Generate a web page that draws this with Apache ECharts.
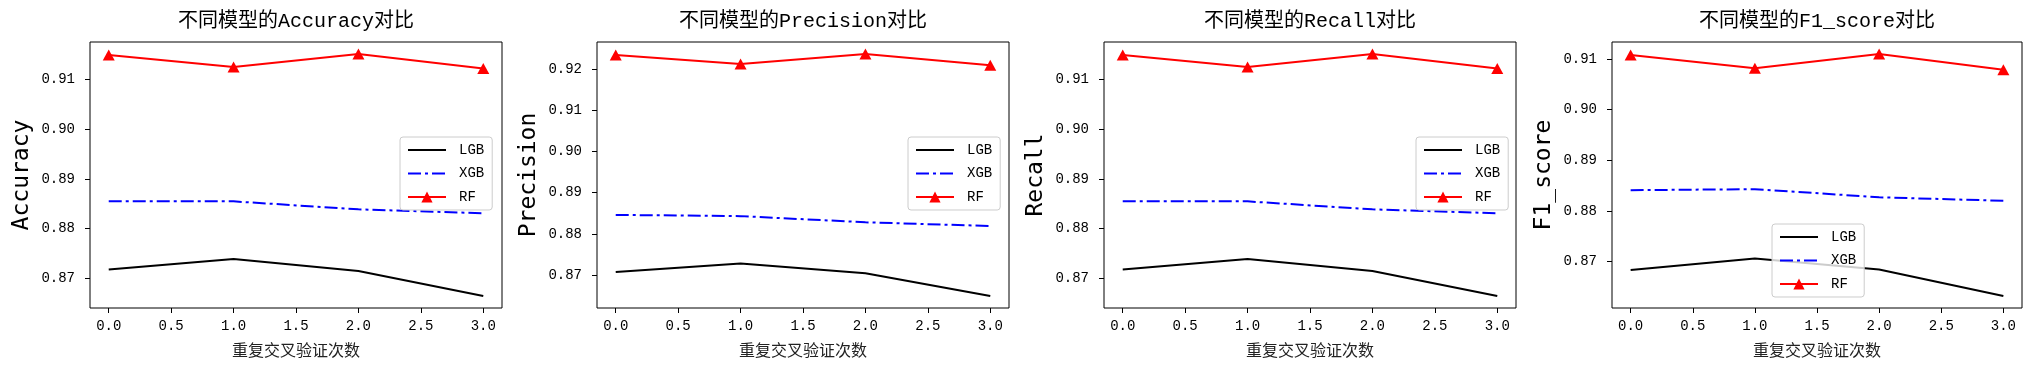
<!DOCTYPE html>
<html>
<head>
<meta charset="utf-8">
<script src="https://cdn.jsdelivr.net/npm/echarts@6/dist/echarts.min.js"></script>
<style>html,body{margin:0;padding:0;background:#fff}#c{width:2035px;height:371px}</style>
</head>
<body>
<div id="c"></div>
<script>
// ---- data ----
const runs = [0, 1, 2, 3];
const xTicks = [0, 0.5, 1, 1.5, 2, 2.5, 3];
const metrics = ['Accuracy', 'Precision', 'Recall', 'F1_score'];
const modelNames = ['LGB', 'XGB', 'RF'];

const accLGB = [0.8718, 0.8739, 0.8715, 0.8665];
const accXGB = [0.8855, 0.8855, 0.8839, 0.8831];
const accRF  = [0.9149, 0.9125, 0.9151, 0.9122];

const preLGB = [0.8707, 0.8728, 0.8704, 0.8649];
const preXGB = [0.8846, 0.8843, 0.8828, 0.8819];
const preRF  = [0.9235, 0.9213, 0.9237, 0.9210];

const recLGB = [0.8718, 0.8739, 0.8715, 0.8665];
const recXGB = [0.8855, 0.8855, 0.8839, 0.8831];
const recRF  = [0.9149, 0.9125, 0.9151, 0.9122];

const f1LGB = [0.8683, 0.8706, 0.8684, 0.8632];
const f1XGB = [0.8841, 0.8843, 0.8827, 0.8820];
const f1RF  = [0.9108, 0.9082, 0.9110, 0.9079];

const accTicks = [0.87, 0.88, 0.89, 0.90, 0.91];
const preTicks = [0.87, 0.88, 0.89, 0.90, 0.91, 0.92];
const recTicks = [0.87, 0.88, 0.89, 0.90, 0.91];
const f1Ticks  = [0.87, 0.88, 0.89, 0.90, 0.91];

const panelData = [
  [accLGB, accXGB, accRF],
  [preLGB, preXGB, preRF],
  [recLGB, recXGB, recRF],
  [f1LGB, f1XGB, f1RF]
];
const panelTicks = [accTicks, preTicks, recTicks, f1Ticks];

// ---- layout / style ----
const grids = [
  {left: 90, width: 412},
  {left: 597, width: 412},
  {left: 1104, width: 412},
  {left: 1612, width: 410}
];
const legendPos = [
  {left: 400, top: 137},
  {left: 908, top: 137},
  {left: 1416, top: 137},
  {left: 1772, top: 224}
];
const GT = 42, GH = 266;
const mono = "'Liberation Mono', 'Noto Sans CJK SC', monospace";
const styles = [
  {color: '#000000', type: 'solid', symbol: 'none'},
  {color: '#0000ff', type: [13, 4, 3, 4], symbol: 'none'},
  {color: '#ff0000', type: 'solid', symbol: 'triangle'}
];

const option = {
  animation: false,
  backgroundColor: '#ffffff',
  title: [], grid: [], xAxis: [], yAxis: [], legend: [], series: []
};

metrics.forEach((m, i) => {
  const g = grids[i];
  option.grid.push({left: g.left, top: GT, width: g.width, height: GH,
    show: true, borderColor: '#000', borderWidth: 1, containLabel: false});
  option.title.push({
    text: '不同模型的' + m + '对比',
    left: g.left + g.width / 2, top: 12, textAlign: 'center', padding: 0,
    textStyle: {fontFamily: mono, fontSize: 20, fontWeight: 'normal', color: '#000'}
  });
  option.xAxis.push({
    type: 'value', gridIndex: i, min: -0.15, max: 3.15,
    name: '重复交叉验证次数', nameLocation: 'middle', nameGap: 34,
    nameTextStyle: {fontFamily: "'Noto Sans CJK SC'", fontSize: 16, color: '#222'},
    axisLine: {show: false, onZero: false},
    splitLine: {show: false},
    axisTick: {show: true, inside: false, length: 5, customValues: xTicks, lineStyle: {color: '#000', width: 1}},
    axisLabel: {customValues: xTicks, margin: 11, fontFamily: mono, fontSize: 14, color: '#000',
      formatter: v => v.toFixed(1)}
  });
  const all = [].concat(...panelData[i]);
  const lo = Math.min(...all), hi = Math.max(...all), pad = (hi - lo) * 0.05;
  option.yAxis.push({
    type: 'value', gridIndex: i, min: lo - pad, max: hi + pad,
    name: m, nameLocation: 'middle', nameGap: 56, nameRotate: 90,
    nameTextStyle: {fontFamily: "'DejaVu Sans Mono', monospace", fontSize: 23, color: '#000'},
    axisLine: {show: false, onZero: false},
    splitLine: {show: false},
    axisTick: {show: true, inside: false, length: 5, customValues: panelTicks[i], lineStyle: {color: '#000', width: 1}},
    axisLabel: {customValues: panelTicks[i], margin: 15, fontFamily: mono, fontSize: 14, color: '#000',
      formatter: v => v.toFixed(2)}
  });
  option.legend.push({
    data: modelNames, orient: 'vertical',
    left: legendPos[i].left, top: legendPos[i].top,
    itemWidth: 38, itemHeight: 14, itemGap: 9.5,
    padding: [6, 8, 6, 7],
    backgroundColor: 'rgba(255,255,255,0.8)', borderColor: '#cccccc', borderWidth: 1, borderRadius: 3,
    textStyle: {fontFamily: mono, fontSize: 14, color: '#000', padding: [0, 0, 0, 8]},
    selectedMode: false
  });
  modelNames.forEach((name, k) => {
    const st = styles[k];
    const noSym = st.symbol === 'none';
    option.series.push({
      type: 'line', name: name, xAxisIndex: i, yAxisIndex: i,
      data: runs.map((x, j) => [x, panelData[i][k][j]]),
      symbol: noSym ? 'circle' : st.symbol, symbolSize: [12, 11], showSymbol: !noSym,
      itemStyle: {color: st.color, opacity: noSym ? 0 : 1},
      lineStyle: {color: st.color, width: 2, type: st.type, opacity: 1},
      z: 2
    });
  });
});

const chart = echarts.init(document.getElementById('c'), null, {renderer: 'canvas'});
chart.setOption(option);
</script>
</body>
</html>
